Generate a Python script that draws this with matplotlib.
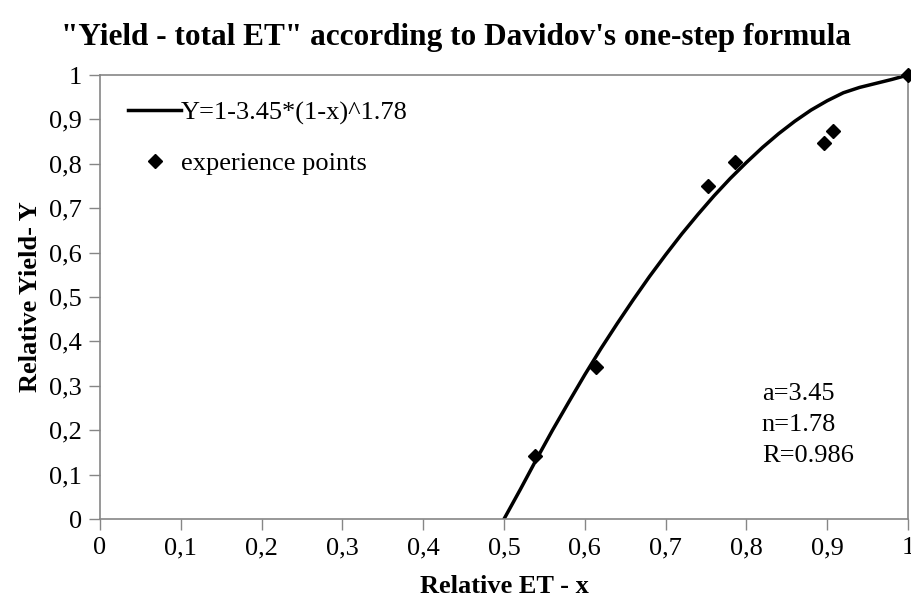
import matplotlib.pyplot as plt

# fitted curve
curve_x = [0.50, 0.52, 0.54, 0.56, 0.58, 0.60, 0.62, 0.64, 0.66, 0.68, 0.70,
           0.72, 0.74, 0.76, 0.78, 0.80, 0.82, 0.84, 0.86, 0.88, 0.90,
           0.92, 0.94, 0.96, 0.98, 1.00]
curve_y = [0.0, 0.066, 0.134, 0.200, 0.263, 0.325, 0.384, 0.440, 0.494, 0.546, 0.595,
           0.642, 0.686, 0.728, 0.767, 0.803, 0.837, 0.868, 0.896, 0.921, 0.942,
           0.960, 0.972, 0.981, 0.990, 1.0]

# experience points
exp_x = [0.538, 0.614, 0.753, 0.786, 0.896, 0.907, 1.0]
exp_y = [0.142, 0.342, 0.749, 0.803, 0.846, 0.873, 1.0]

ticks = [0, 0.1, 0.2, 0.3, 0.4, 0.5, 0.6, 0.7, 0.8, 0.9, 1]
tick_labels = ["0", "0,1", "0,2", "0,3", "0,4", "0,5", "0,6", "0,7", "0,8", "0,9", "1"]

plt.rcParams['font.family'] = ['Liberation Serif', 'DejaVu Serif']

fig = plt.figure(figsize=(9.11, 6.01), dpi=100)
ax = fig.add_axes([0.1098, 0.1364, 0.8869, 0.7388])

ax.plot(curve_x, curve_y, color="black", lw=2.5, label="Y=1-3.45*(1-x)^1.78",
        solid_joinstyle="round")
ax.plot(exp_x, exp_y, ls="none", marker="D", ms=7, color="black",
        label="experience points", clip_on=False, zorder=3)

ax.set_xlim(0, 1)
ax.set_ylim(0, 1)
ax.set_xticks(ticks)
ax.set_xticklabels(tick_labels)
ax.set_yticks(ticks)
ax.set_yticklabels(tick_labels)
ax.tick_params(labelsize=19, color="#868686", length=8, width=1, pad=5)

for s in ax.spines.values():
    s.set_color("#868686")
    s.set_linewidth(1.2)

ax.set_xlabel("Relative ET - x", fontsize=19, fontweight="bold")
ax.xaxis.label.set_va("baseline")
ax.xaxis.set_label_coords(0.5, -0.166)
ax.set_ylabel("Relative Yield- Y", fontsize=19, fontweight="bold")
ax.yaxis.label.set_va("center")
ax.yaxis.set_label_coords(-0.086, 0.5)

fig.text(0.5, 0.925, "\"Yield - total ET\" according to Davidov's one-step formula",
         ha="center", va="baseline", fontsize=22.5, fontweight="bold")

ax.legend(loc="upper left", bbox_to_anchor=(0.035, 0.942), frameon=False,
          fontsize=19, handlelength=2.0, handletextpad=0.0, labelspacing=1.03,
          borderpad=0, borderaxespad=0)

ax.text(0.819, 0.212, "a=3.45\nn=1.78\nR=0.986", fontsize=19, va="center",
        ha="left", linespacing=1.55)

fig.savefig("out.png", dpi=100)
